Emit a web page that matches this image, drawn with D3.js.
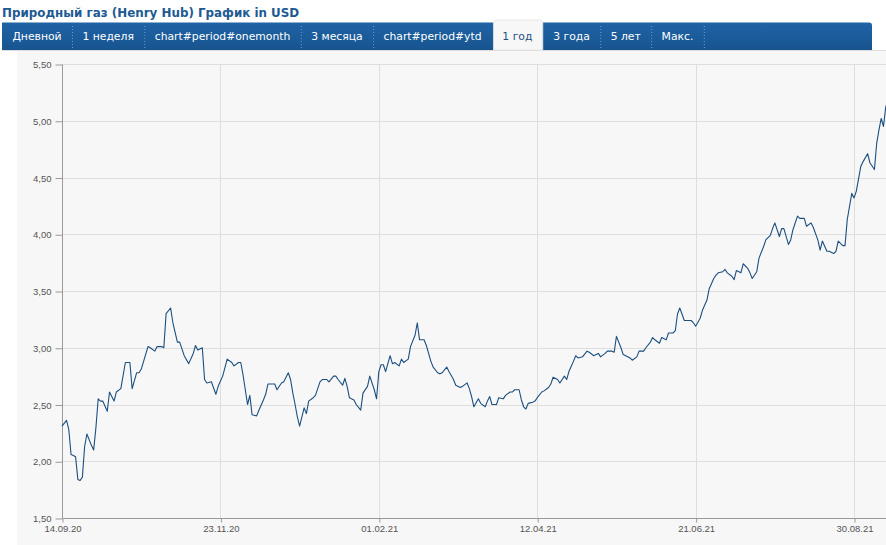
<!DOCTYPE html>
<html>
<head>
<meta charset="utf-8">
<script src="https://cdn.jsdelivr.net/npm/d3@7"></script>
<style>
  html, body { margin: 0; padding: 0; background: #fff; overflow: hidden; }
  svg { display: block; }
</style>
</head>
<body>
<svg id="chart" width="886" height="545"></svg>
<script>
(function(){
'use strict';

    var chartTitle = 'Природный газ (Henry Hub) График in USD';
    var periodTabs = ['Дневной', '1 неделя', 'chart#period#onemonth', '3 месяца', 'chart#period#ytd', '1 год', '3 года', '5 лет', 'Макс.'];
    var activeTab = '1 год';

    var startDate = '2020-09-14';
    var endDate = '2021-09-14';

    // calendar days after startDate, one per plotted quote
    var dayOffsets = [
        0, 2, 3, 4, 5, 6, 7, 8, 9, 10,
        11, 13, 14, 15, 16, 17, 18, 20, 21, 23,
        24, 26, 28, 30, 31, 33, 34, 35, 38, 39,
        41, 42, 44, 45, 46, 48, 49, 51, 52, 54,
        56, 58, 59, 60, 62, 63, 64, 66, 68, 69,
        71, 73, 75, 76, 78, 79, 80, 82, 83, 84,
        86, 87, 89, 90, 91, 94, 95, 97, 98, 100,
        101, 102, 103, 104, 105, 107, 108, 109, 111, 112,
        114, 115, 117, 118, 120, 121, 122, 124, 125, 126,
        127, 129, 130, 132, 133, 135, 136, 138, 139, 140,
        141, 142, 143, 145, 146, 147, 149, 150, 151, 153,
        154, 156, 157, 158, 160, 161, 162, 163, 164, 166,
        167, 168, 170, 171, 173, 174, 176, 177, 179, 180,
        181, 182, 184, 185, 187, 188, 189, 190, 192, 193,
        195, 196, 198, 199, 200, 202, 203, 204, 205, 206,
        208, 209, 210, 212, 213, 215, 216, 217, 219, 220,
        222, 223, 224, 226, 227, 228, 230, 232, 233, 235,
        236, 237, 238, 240, 241, 243, 244, 245, 247, 248,
        250, 251, 252, 254, 255, 257, 258, 260, 261, 262,
        264, 265, 267, 268, 270, 271, 272, 273, 275, 276,
        278, 279, 280, 282, 283, 285, 286, 288, 289, 290,
        292, 293, 294, 296, 297, 298, 300, 301, 303, 304,
        305, 307, 308, 310, 311, 313, 314, 315, 317, 318,
        319, 321, 322, 323, 325, 326, 328, 329, 331, 332,
        334, 335, 336, 338, 339, 341, 342, 343, 345, 346,
        347, 349, 350, 351, 353, 354, 356, 357, 359, 360,
        361, 362, 363, 364, 365
    ];

    var prices = [
        2.31, 2.36, 2.28, 2.06, 2.05, 2.04, 1.84, 1.83, 1.86, 2.13,
        2.24, 2.14, 2.10, 2.30, 2.55, 2.53, 2.53, 2.44, 2.61, 2.53,
        2.61, 2.64, 2.87, 2.87, 2.64, 2.78, 2.78, 2.81, 3.01, 3.00,
        2.97, 3.01, 3.01, 3.00, 3.30, 3.35, 3.22, 3.05, 3.05, 2.93,
        2.86, 2.95, 3.02, 2.98, 3.00, 2.72, 2.69, 2.70, 2.59, 2.66,
        2.75, 2.90, 2.87, 2.84, 2.87, 2.87, 2.76, 2.50, 2.58, 2.41,
        2.40, 2.45, 2.54, 2.59, 2.68, 2.68, 2.63, 2.69, 2.70, 2.78,
        2.72, 2.60, 2.50, 2.39, 2.31, 2.47, 2.42, 2.53, 2.56, 2.58,
        2.70, 2.72, 2.72, 2.70, 2.75, 2.75, 2.72, 2.67, 2.73, 2.66,
        2.56, 2.54, 2.50, 2.45, 2.60, 2.66, 2.75, 2.63, 2.55, 2.79,
        2.85, 2.85, 2.79, 2.93, 2.86, 2.87, 2.84, 2.90, 2.87, 2.90,
        3.01, 3.11, 3.22, 3.07, 3.07, 3.02, 2.95, 2.88, 2.83, 2.78,
        2.77, 2.78, 2.83, 2.79, 2.72, 2.67, 2.65, 2.66, 2.69, 2.64,
        2.57, 2.48, 2.55, 2.51, 2.48, 2.53, 2.57, 2.50, 2.50, 2.56,
        2.55, 2.58, 2.61, 2.61, 2.63, 2.63, 2.54, 2.48, 2.46, 2.51,
        2.52, 2.53, 2.56, 2.61, 2.62, 2.65, 2.68, 2.74, 2.72, 2.69,
        2.75, 2.72, 2.79, 2.88, 2.93, 2.91, 2.92, 2.97, 2.96, 2.93,
        2.94, 2.95, 2.92, 2.95, 2.97, 2.97, 2.96, 3.10, 3.00, 2.94,
        2.92, 2.91, 2.89, 2.92, 2.97, 2.97, 3.00, 3.05, 3.09, 3.07,
        3.04, 3.09, 3.07, 3.13, 3.13, 3.15, 3.30, 3.35, 3.24, 3.24,
        3.24, 3.22, 3.19, 3.26, 3.33, 3.42, 3.52, 3.61, 3.64, 3.66,
        3.67, 3.69, 3.66, 3.63, 3.60, 3.68, 3.66, 3.74, 3.70, 3.66,
        3.61, 3.67, 3.79, 3.89, 3.95, 3.99, 4.05, 4.10, 3.98, 4.05,
        4.05, 3.91, 3.95, 4.04, 4.16, 4.14, 4.14, 4.07, 4.10, 4.06,
        3.95, 3.86, 3.94, 3.85, 3.85, 3.83, 3.85, 3.94, 3.90, 3.90,
        4.13, 4.36, 4.32, 4.38, 4.60, 4.64, 4.71, 4.63, 4.57, 4.80,
        4.92, 5.02, 4.95, 5.12, 5.18
    ];

    var xTickDates = ['2020-09-14', '2020-11-23', '2021-02-01', '2021-04-12', '2021-06-21', '2021-08-30'];
    var yTickValues = [1.5, 2.0, 2.5, 3.0, 3.5, 4.0, 4.5, 5.0, 5.5];

    var parseDate = d3.timeParse('%Y-%m-%d'),
        fmtDate = d3.timeFormat('%d.%m.%y'),
        fmtPrice = function(v) { return d3.format('.2f')(v).replace('.', ','); };

    var start = parseDate(startDate);
    var series = dayOffsets.map(function(d, i) {
        return {date: d3.timeDay.offset(start, d), value: prices[i]};
    });

    var svg = d3.select('#chart');
    var W = 886, H = 545;
    var plot = {left: 62, right: 888, top: 64, bottom: 518};

    // title
    svg.append('text')
        .attr('x', 2).attr('y', 17)
        .attr('font-family', 'DejaVu Sans, Verdana, sans-serif')
        .attr('font-size', 11.9).attr('font-weight', 'bold')
        .attr('fill', '#1d5a93')
        .text(chartTitle);

    // chart panel
    svg.append('rect')
        .attr('x', 17).attr('y', 50).attr('width', W - 17).attr('height', H - 50)
        .attr('fill', '#f7f7f7');
    svg.append('line')
        .attr('x1', 2).attr('x2', W).attr('y1', 50.5).attr('y2', 50.5)
        .attr('stroke', '#dcdcdc');

    // tab bar
    var defs = svg.append('defs');
    var grad = defs.append('linearGradient').attr('id', 'tabbar').attr('x1', 0).attr('x2', 0).attr('y1', 0).attr('y2', 1);
    grad.append('stop').attr('offset', '0%').attr('stop-color', '#1f63a6');
    grad.append('stop').attr('offset', '100%').attr('stop-color', '#17548f');

    svg.append('path')
        .attr('d', 'M2,22.5 H869 Q872,22.5 872,25.5 V50 H2 Z')
        .attr('fill', 'url(#tabbar)');

    var tabs = svg.append('g').attr('class', 'tabs');
    var pad = 10.4, tx = 2;
    periodTabs.forEach(function(label, i) {
        var isActive = label === activeTab;
        var t = tabs.append('text')
            .attr('y', 40)
            .attr('font-family', 'DejaVu Sans, Verdana, sans-serif')
            .attr('font-size', 10.8)
            .attr('fill', isActive ? '#1f4f7e' : '#ffffff')
            .text(label);
        var w = t.node().getComputedTextLength();
        t.attr('x', tx + pad);
        var tabEnd = tx + pad * 2 + w;
        if (isActive) {
            tabs.insert('path', 'text')
                .attr('d', 'M' + (tx + 1.5) + ',50 V23 Q' + (tx + 1.5) + ',20 ' + (tx + 4.5) + ',20 H' + (tabEnd - 3) +
                      ' Q' + tabEnd + ',20 ' + tabEnd + ',23 V50 Z')
                .attr('fill', '#f7f7f7')
                .attr('stroke', '#e3e3e3')
                .attr('stroke-width', 0.8);
        } else if (periodTabs[i + 1] !== activeTab) {
            tabs.append('line')
                .attr('x1', tabEnd + 0.5).attr('x2', tabEnd + 0.5)
                .attr('y1', 26).attr('y2', 48)
                .attr('stroke', '#6f9acb')
                .attr('stroke-dasharray', '1,2');
        }
        tx = tabEnd;
    });

    // scales
    var x = d3.scaleTime()
        .domain([start, parseDate(endDate)])
        .range([plot.left, plot.right]);
    var y = d3.scaleLinear()
        .domain([1.5, 5.5])
        .range([plot.bottom, plot.top]);

    var xTicks = xTickDates.map(parseDate);

    // grid
    var grid = svg.append('g').attr('class', 'grid').attr('stroke', '#dedede').attr('stroke-width', 1);
    grid.selectAll('line.h').data(yTickValues.slice(1)).enter().append('line')
        .attr('class', 'h')
        .attr('x1', plot.left).attr('x2', W)
        .attr('y1', function(d) { return Math.round(y(d)) + 0.5; })
        .attr('y2', function(d) { return Math.round(y(d)) + 0.5; });
    grid.selectAll('line.v').data(xTicks.slice(1)).enter().append('line')
        .attr('class', 'v')
        .attr('y1', plot.top).attr('y2', plot.bottom)
        .attr('x1', function(d) { return Math.round(x(d)) + 0.5; })
        .attr('x2', function(d) { return Math.round(x(d)) + 0.5; });

    // axes
    var yAxis = d3.axisLeft(y).tickValues(yTickValues).tickFormat(fmtPrice).tickSize(7).tickPadding(4);
    var xAxis = d3.axisBottom(x).tickValues(xTicks).tickFormat(fmtDate).tickSize(4).tickPadding(3).tickSizeOuter(0);

    var gy = svg.append('g').attr('transform', 'translate(' + (plot.left + 0.5) + ',0.5)').call(yAxis);
    var gx = svg.append('g').attr('transform', 'translate(0.5,' + (plot.bottom + 0.5) + ')').call(xAxis);
    gx.select('.domain').attr('d', 'M' + plot.left + ',0H' + W);

    [gy, gx].forEach(function(g) {
        g.select('.domain').attr('stroke', '#9a9a9a');
        g.selectAll('.tick line').attr('stroke', '#9a9a9a');
        g.selectAll('.tick text')
            .attr('fill', '#555')
            .attr('font-family', 'Liberation Sans, Arial, sans-serif')
            .attr('font-size', 9.5);
    });
    gy.select('.domain').attr('d', 'M0,' + plot.top + 'V' + plot.bottom);

    // price line
    var line = d3.line()
        .x(function(d) { return x(d.date); })
        .y(function(d) { return y(d.value); });

    svg.append('path')
        .datum(series)
        .attr('fill', 'none')
        .attr('stroke', '#1b4f80')
        .attr('stroke-width', 1.1)
        .attr('stroke-linejoin', 'round')
        .attr('d', line);

})();
</script>
</body>
</html>
